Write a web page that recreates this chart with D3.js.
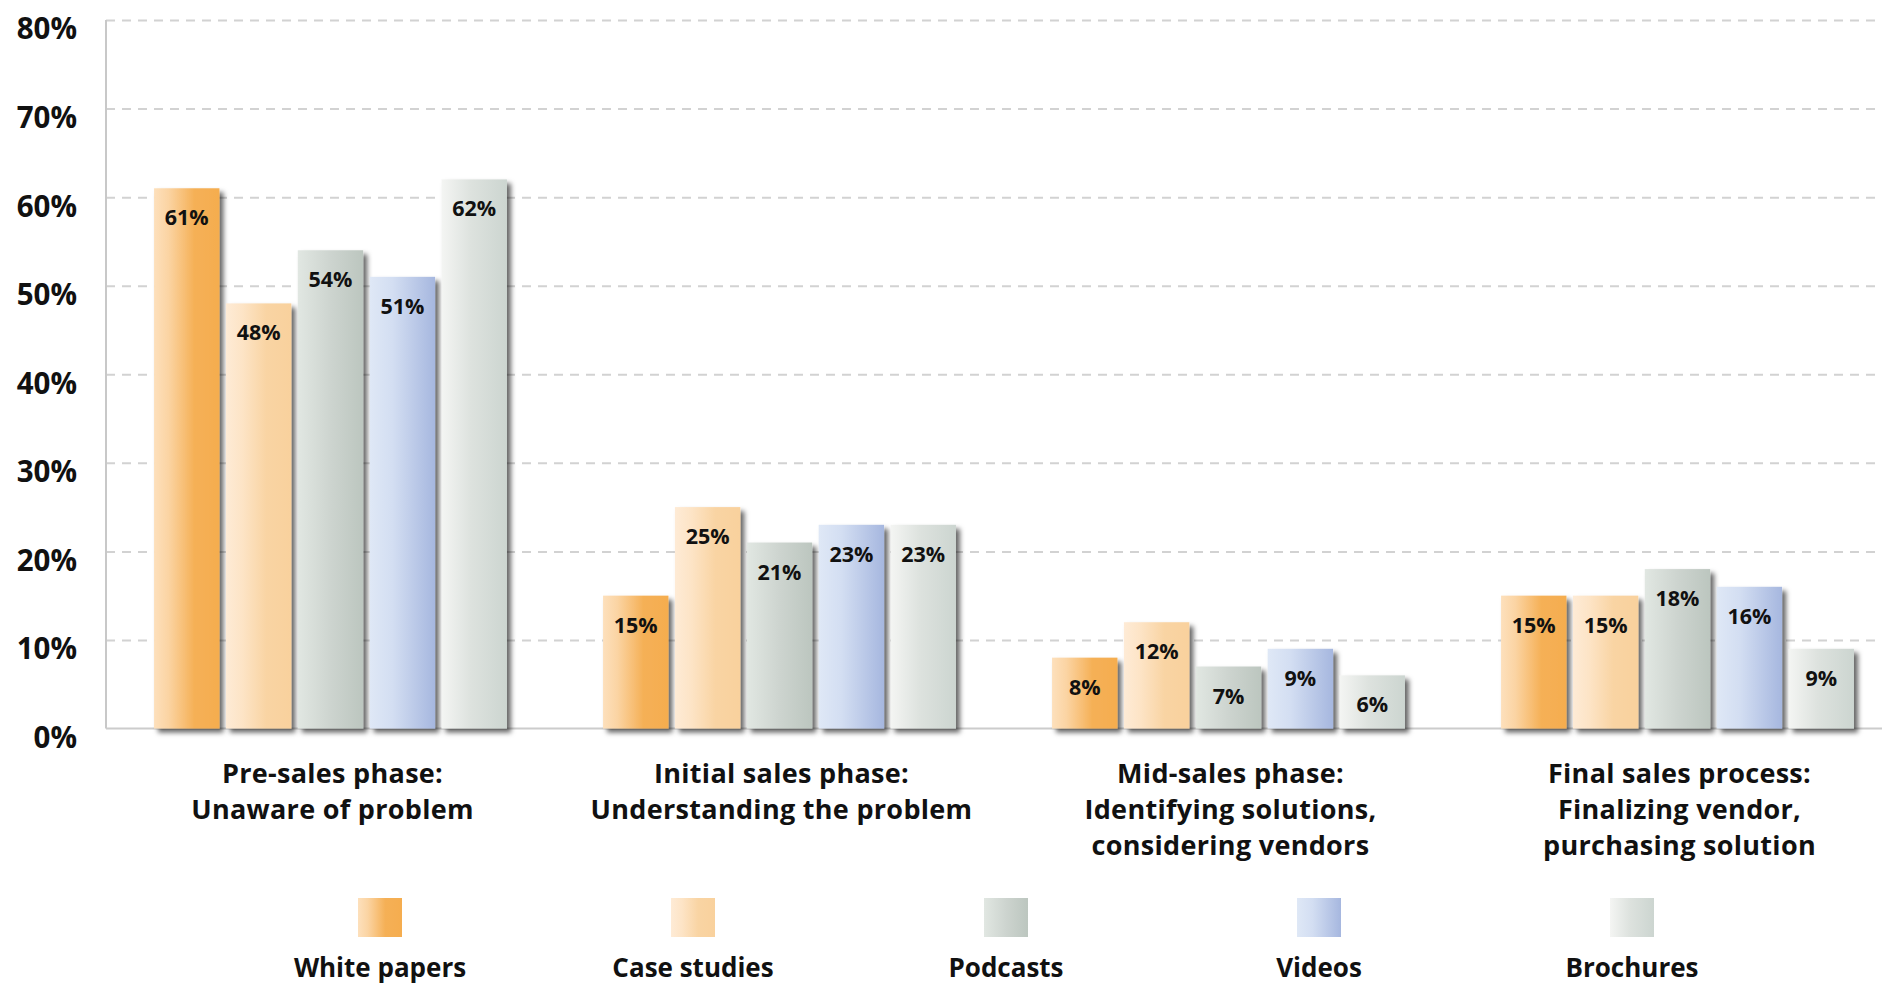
<!DOCTYPE html>
<html>
<head>
<meta charset="utf-8">
<script src="https://cdn.jsdelivr.net/npm/d3@7"></script>
<style>
  html, body { margin: 0; padding: 0; background: #fff; overflow: hidden; }
  svg { display: block; font-family: "Open Sans", Lato, sans-serif; }
</style>
</head>
<body>
<svg id="chart" width="1882" height="985"></svg>
<script>
// ---- data ----
const categories = [
  ["Pre-sales phase:", "Unaware of problem"],
  ["Initial sales phase:", "Understanding the problem"],
  ["Mid-sales phase:", "Identifying solutions,", "considering vendors"],
  ["Final sales process:", "Finalizing vendor,", "purchasing solution"]
];
const series = ["White papers", "Case studies", "Podcasts", "Videos", "Brochures"];
const whitePapers = [61, 15, 8, 15];
const caseStudies = [48, 25, 12, 15];
const podcasts    = [54, 21, 7, 18];
const videos      = [51, 23, 9, 16];
const brochures   = [62, 23, 6, 9];
const yTicks = [0, 10, 20, 30, 40, 50, 60, 70, 80];

const seriesValues = [whitePapers, caseStudies, podcasts, videos, brochures];
const gradStops = [
  [["0%", "#fde0bc"], ["22%", "#fbd4a3"], ["62%", "#f5b056"], ["100%", "#f5ad4f"]],
  [["0%", "#feebd6"], ["25%", "#fde4c6"], ["62%", "#f9d4a3"], ["100%", "#f9d19d"]],
  [["0%", "#e1e7e2"], ["50%", "#cdd4cf"], ["100%", "#bcc6bf"]],
  [["0%", "#dfe8f6"], ["35%", "#d3def2"], ["100%", "#a6b7df"]],
  [["0%", "#f4f5f3"], ["45%", "#dde2de"], ["100%", "#ccd5d0"]]
];

// ---- layout ----
const svg = d3.select("#chart");
const W = 1882, mLeft = 106, mTop = 20, mBottom = 728.5;
const FONT = '"Open Sans", Lato, sans-serif';

const x0 = d3.scaleBand().domain(d3.range(categories.length))
  .range([mLeft, mLeft + 4 * 449]).paddingInner(0.214).paddingOuter(0.107);
const x1 = d3.scaleBand().domain(series).range([0, x0.bandwidth()])
  .paddingInner(0.09).paddingOuter(0);
const y = d3.scaleLinear().domain([0, 80]).range([mBottom, mTop]);

const defs = svg.append("defs");
series.forEach((s, i) => {
  const g = defs.append("linearGradient").attr("id", "grad" + i)
    .attr("x1", "0%").attr("x2", "100%").attr("y1", "0%").attr("y2", "0%");
  gradStops[i].forEach(st => g.append("stop").attr("offset", st[0]).attr("stop-color", st[1]));
});
const f = defs.append("filter").attr("id", "shadow")
  .attr("x", "-10%").attr("y", "-10%").attr("width", "130%").attr("height", "130%");
f.append("feDropShadow").attr("dx", 4).attr("dy", 4).attr("stdDeviation", 2.5)
  .attr("flood-color", "#000").attr("flood-opacity", 0.6);

// grid
const grid = svg.append("g").attr("transform", `translate(${mLeft},0)`)
  .call(d3.axisLeft(y).tickValues(yTicks.filter(d => d > 0)).tickSize(-(W - mLeft)).tickFormat(""));
grid.select(".domain").remove();
grid.selectAll("line").attr("stroke", "#d2d2d2").attr("stroke-width", 2).attr("stroke-dasharray", "9,7");

// y axis labels
const yAxis = svg.append("g").attr("transform", `translate(${mLeft},0)`)
  .call(d3.axisLeft(y).tickValues(yTicks).tickSize(0).tickPadding(29).tickFormat(d => d + "%"));
yAxis.select(".domain").remove();
yAxis.selectAll("text").attr("dy", "0.64em").attr("font-size", 29.5).attr("font-weight", 700)
  .attr("fill", "#111").attr("font-family", FONT);

// axis lines
svg.append("line").attr("x1", mLeft).attr("x2", mLeft).attr("y1", y(80)).attr("y2", y(0))
  .attr("stroke", "#c8c8c8").attr("stroke-width", 2);
svg.append("line").attr("x1", mLeft).attr("x2", W).attr("y1", y(0)).attr("y2", y(0))
  .attr("stroke", "#cccccc").attr("stroke-width", 2);

// bars
const groups = svg.append("g").selectAll("g").data(categories).join("g")
  .attr("transform", (d, i) => `translate(${x0(i)},0)`);
groups.each(function(cat, ci) {
  const g = d3.select(this);
  series.forEach((s, si) => {
    const v = seriesValues[si][ci];
    g.append("rect")
      .attr("x", x1(s)).attr("width", x1.bandwidth())
      .attr("y", y(v)).attr("height", y(0) - y(v))
      .attr("fill", `url(#grad${si})`).attr("filter", "url(#shadow)");
    g.append("text")
      .attr("x", x1(s) + x1.bandwidth() / 2).attr("y", y(v) + 37)
      .attr("text-anchor", "middle").attr("font-size", 21.5).attr("font-weight", 700)
      .attr("fill", "#111").text(v + "%");
  });
});

// category labels
const catLabels = svg.append("g").selectAll("text").data(categories).join("text")
  .attr("text-anchor", "middle").attr("font-size", 27).attr("font-weight", 700).attr("fill", "#111")
  .attr("letter-spacing", 0.3)
  .attr("transform", (d, i) => `translate(${x0(i) + x0.bandwidth() / 2 + 2},783)`);
catLabels.selectAll("tspan").data(d => d).join("tspan")
  .attr("x", 0).attr("y", (d, i) => i * 36).text(d => d);

// legend
const lx = d3.scalePoint().domain(series).range([380, 1632]);
const leg = svg.append("g").selectAll("g").data(series).join("g")
  .attr("transform", d => `translate(${lx(d)},0)`);
leg.append("rect").attr("x", -22).attr("y", 898).attr("width", 44).attr("height", 39)
  .attr("fill", (d, i) => `url(#grad${i})`);
leg.append("text").attr("text-anchor", "middle").attr("y", 977)
  .attr("font-size", 26).attr("font-weight", 700).attr("fill", "#111").text(d => d);
</script>
</body>
</html>
